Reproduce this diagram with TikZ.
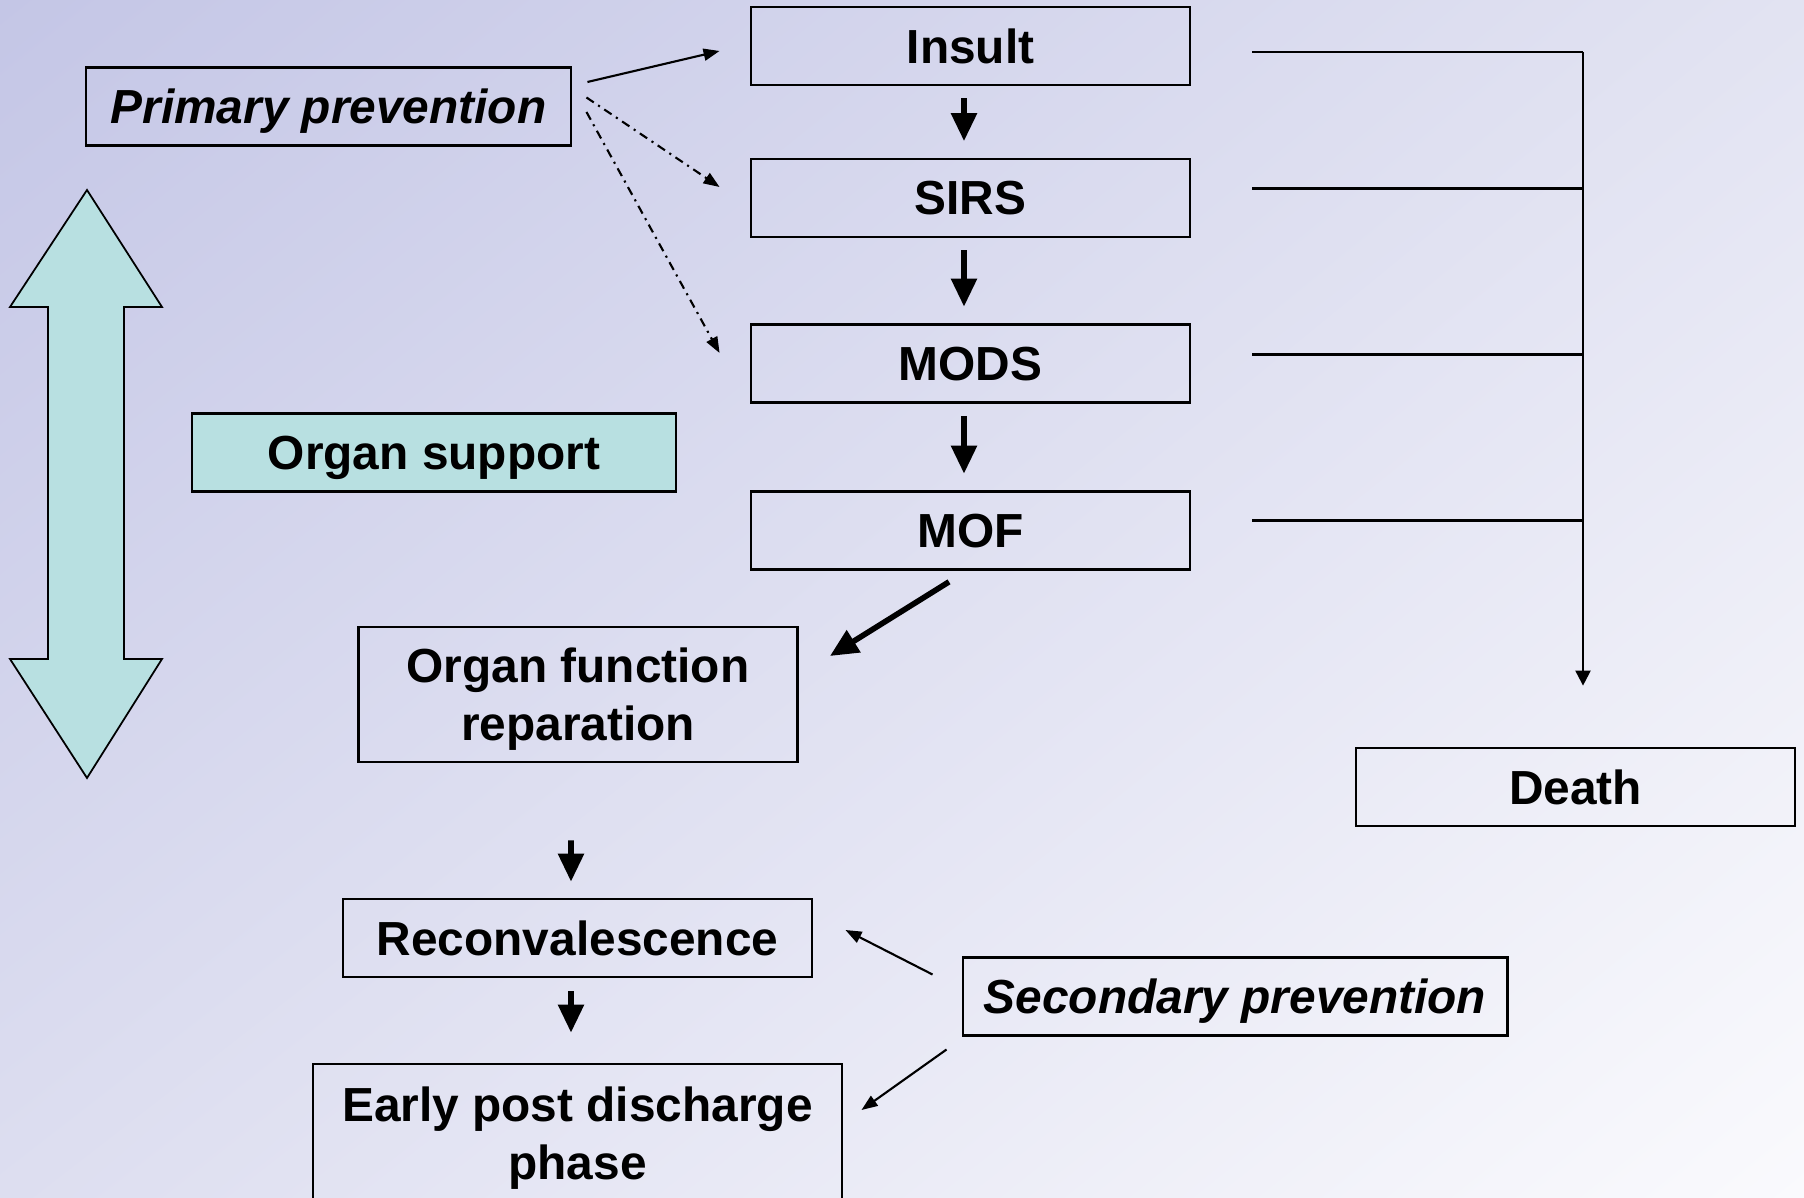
\documentclass[tikz,border=0pt]{standalone}
\usepackage{fontspec}
\setmainfont{Liberation Sans}
\usetikzlibrary{arrows.meta,calc,shadings}
\definecolor{bgtl}{RGB}{196,198,230}
\definecolor{bgtr}{RGB}{226,227,242}
\definecolor{bgbl}{RGB}{221,222,240}
\definecolor{bgbr}{RGB}{250,250,253}
\definecolor{support}{RGB}{184,224,225}
\newcommand{\boxfont}{\fontsize{13.6}{16.4}\selectfont\bfseries}
\tikzstyle{stage}=[draw, line width=0.75pt, minimum width=4.39cm, minimum height=0.78cm, inner sep=0pt, text depth=0pt, align=center, font=\boxfont]
\tikzstyle{flow}=[line width=1.6pt, -{Triangle[length=0.28cm,width=0.25cm]}]
\tikzstyle{hint}=[line width=0.6pt, -{Triangle[length=0.16cm,width=0.12cm]}]
\tikzstyle{hintdash}=[hint, dash pattern=on 2.5pt off 1.5pt on 0.6pt off 1.5pt]
\tikzstyle{fate}=[line width=0.6pt]

\begin{document}
\begin{tikzpicture}[x=0.01cm,y=-0.01cm]
	% background
	\shade[upper left=bgtl, upper right=bgtr, lower left=bgbl, lower right=bgbr] (0,0) rectangle (1804,1198);
	\useasboundingbox (0,0) rectangle (1804,1198);
	\clip (0,0) rectangle (1804,1198);

	% organ support arrow
	\draw[fill=support, line width=0.5pt] (87,190) -- (162,307) -- (124,307) -- (124,659) -- (162,659) -- (87,778) -- (10,659) -- (48,659) -- (48,307) -- (10,307) -- cycle;

	\node[stage] (insult) at (970.5,46) {Insult};
	\node[stage] (sirs) at (970.5,198) {SIRS};
	\node[stage] (mods) at (970.5,363.5) {MODS};
	\node[stage] (mof) at (970.5,530.5) {MOF};
	\node[stage, minimum width=4.85cm, font=\boxfont\itshape] (prim) at (328.5,106.5) {Primary prevention};
	\node[stage, fill=support, minimum width=4.84cm] (support) at (434,452.5) {Organ support};
	\node[stage, minimum height=1.35cm] (repar) at (578,694.5) {Organ function\\reparation};
	\node[stage] (death) at (1575.5,787) {Death};
	\node[stage, minimum width=4.69cm] (reconv) at (577.5,938) {Reconvalescence};
	\node[stage, minimum width=5.29cm, minimum height=1.38cm] (early) at (577.5,1133) {Early post discharge\\phase};
	\node[stage, minimum width=5.44cm, font=\boxfont\itshape] (second) at (1235,996.5) {Secondary prevention};

	% course
	\foreach \a/\b in {insult/sirs, sirs/mods, mods/mof}
		\draw[flow, shorten <=0.12cm, shorten >=0.165cm] ([xshift=-0.065cm]\a.south) -- ([xshift=-0.065cm]\b.north);
	\draw[flow] ([shift={(-21.5,11)}]mof.south) -- ([shift={(31,-38.5)}]repar.east);
	\draw[flow, shorten <=0.77cm, shorten >=0.16cm] ([xshift=-0.07cm]repar.south) -- ([xshift=-0.065cm]reconv.north);
	\draw[flow, shorten <=0.13cm, shorten >=0.30cm] ([xshift=-0.065cm]reconv.south) -- ([xshift=-0.065cm]early.north);

	% prevention
	\draw[hint] ([shift={(15,-24.5)}]prim.east) -- ([shift={(-30,5)}]insult.west);
	\draw[hintdash] ([shift={(14,-9)}]prim.east) -- ([shift={(-30,-11)}]sirs.west);
	\draw[hintdash] ([shift={(14,5.5)}]prim.east) -- ([shift={(-30,-10.5)}]mods.west);
	\draw[hint] ([shift={(-29,-22)}]second.west) -- ([shift={(32,-8)}]reconv.east);
	\draw[hint] ([shift={(-15,53)}]second.west) -- ([shift={(18,-23)}]early.east);

	% death
	\coordinate (drop) at (1583,52);
	\foreach \b/\dy in {insult/6, sirs/-9.5, mods/-9, mof/-10} {
		\path ([shift={(61,\dy)}]\b.east) coordinate (f\b);
		\draw[fate] (f\b) -- (f\b -| drop);
	}
	\draw[fate, -{Triangle[length=0.15cm,width=0.15cm]}, shorten >=0.61cm] (drop) -- (drop |- death.north);
\end{tikzpicture}
\end{document}
